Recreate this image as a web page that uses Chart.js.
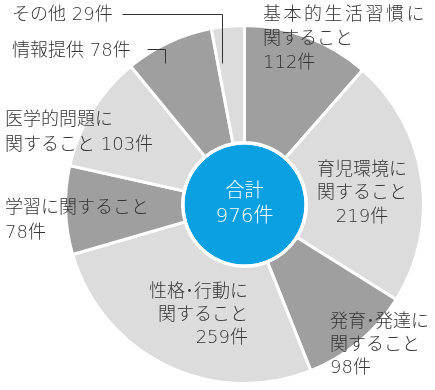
<!DOCTYPE html>
<html><head><meta charset="utf-8">
<script src="https://cdn.jsdelivr.net/npm/chart.js@4"></script>
<style>html,body{margin:0;padding:0;background:#fff}#wrap{width:435px;height:390px}</style>
</head><body><div id="wrap"><canvas id="c" width="435" height="390"></canvas></div>
<script>
const categories = ['基本的生活習慣に関すること','育児環境に関すること','発育･発達に関すること','性格･行動に関すること','学習に関すること','医学的問題に関すること','情報提供','その他'];
const counts = [112, 219, 98, 259, 78, 103, 78, 29];
const total = [976];
const labelLines = [
  ['基本的生活習慣に','関すること','112件'],
  ['育児環境に','関すること','219件'],
  ['発育･発達に','関すること','98件'],
  ['性格･行動に','関すること','259件'],
  ['学習に関すること','78件'],
  ['医学的問題に','関すること 103件'],
  ['情報提供 78件'],
  ['その他 29件']
];
const centerLines = ['合計', '976件'];

const DARK = '#9f9f9f', LIGHT = '#dcdcdc';
const sliceColors = [DARK, LIGHT, DARK, LIGHT, DARK, LIGHT, DARK, LIGHT];
// layout of label blocks (x, first line y, align, line height) and leader lines
const labelLayout = [
  {x:263, y:15, align:'left', lh:24, firstSpacing:2.5},
  {x:362, y:170, align:'center', lh:23.5},
  {x:330, y:322, align:'left', lh:23},
  {x:248, y:292, align:'right', lh:23},
  {x:5, y:208, align:'left', lh:25},
  {x:5, y:120, align:'left', lh:25},
  {x:12, y:51, align:'left', lh:24, leader:[[147,49],[165,49],[165,63]]},
  {x:12, y:15, align:'left', lh:24, leader:[[122,14],[222,14],[222,63]]}
];
const FAM = '"DejaVu Sans", "Noto Sans CJK JP", sans-serif';
const FONT = '300 18px ' + FAM;

const labelPlugin = {
  id: 'labels',
  afterDraw(chart) {
    const ctx = chart.ctx;
    ctx.save();
    ctx.font = FONT;
    ctx.fillStyle = '#353535';
    ctx.textBaseline = 'middle';
    labelLines.forEach((lines, i) => {
      const L = labelLayout[i];
      ctx.textAlign = L.align;
      lines.forEach((t, j) => {
        ctx.letterSpacing = (j === 0 && L.firstSpacing) ? L.firstSpacing + 'px' : '0px';
        ctx.fillText(t, L.x, L.y + j * L.lh);
      });
      ctx.letterSpacing = '0px';
      if (L.leader) {
        ctx.strokeStyle = '#333';
        ctx.lineWidth = 1;
        ctx.beginPath();
        L.leader.forEach((p, k) => k ? ctx.lineTo(p[0]+0.5, p[1]+0.5) : ctx.moveTo(p[0]+0.5, p[1]+0.5));
        ctx.stroke();
      }
    });
    // center text
    const arc = chart.getDatasetMeta(2).data[0];
    ctx.fillStyle = '#fff';
    ctx.textAlign = 'center';
    ctx.font = '300 19px ' + FAM;
    ctx.fillText(centerLines[0], arc.x, arc.y - 12);
    ctx.font = '300 20px ' + FAM;
    ctx.fillText(centerLines[1], arc.x, arc.y + 12);
    ctx.restore();
  }
};

new Chart(document.getElementById('c'), {
  type: 'doughnut',
  data: {
    labels: categories,
    datasets: [
      {data: counts, backgroundColor: sliceColors, borderColor: '#fff', borderWidth: 3, weight: 117},
      {data: total, backgroundColor: '#fff', borderWidth: 0, weight: 2},
      {data: total, backgroundColor: '#0aa0e2', borderWidth: 0, weight: 60}
    ]
  },
  options: {
    responsive: false,
    animation: false,
    cutout: 0,
    layout: {padding: {left: 64, right: 10, top: 24, bottom: 5}},
    plugins: {legend: {display: false}, tooltip: {enabled: false}},
    events: []
  },
  plugins: [labelPlugin]
});
</script></body></html>
